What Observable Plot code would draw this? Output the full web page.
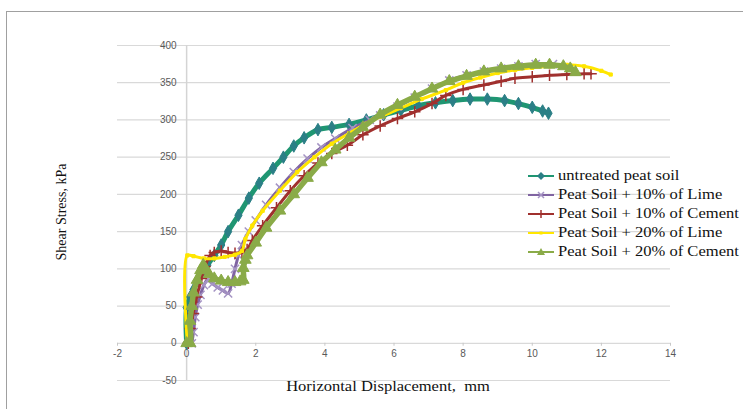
<!DOCTYPE html>
<html><head><meta charset="utf-8">
<script src="https://cdn.jsdelivr.net/npm/d3@7"></script>
<script src="https://cdn.jsdelivr.net/npm/@observablehq/plot@0.6"></script>
<style>
body{margin:0;background:#fff;}
#wrap{position:relative;width:743px;height:409px;overflow:hidden;background:#fff;}
#frame{position:absolute;left:6px;top:11px;width:760px;height:420px;border-left:1.5px solid #a0a0a0;border-top:1.5px solid #a0a0a0;}
#chart{position:absolute;left:0;top:0;}
.title{position:absolute;font-family:"Liberation Serif","Times New Roman",serif;color:#111;white-space:nowrap;}
#ytitle{left:62px;top:212px;font-size:14px;transform:translate(-50%,-50%) rotate(-90deg);}
#xtitle{left:388px;top:387px;font-size:14px;transform:translate(-50%,-50%) scaleX(1.18);}
#legend{position:absolute;left:527px;top:166px;font-family:"Liberation Serif","Times New Roman",serif;font-size:13.8px;color:#111;}
.row{display:flex;align-items:center;height:19.2px;white-space:nowrap;}
.row svg{margin-right:3px;}
.row span{display:inline-block;transform:scaleX(1.2);transform-origin:left center;}
</style>
</head><body>
<div id="wrap">
<div id="frame"></div>
<div id="chart"></div>
<div class="title" id="ytitle">Shear Stress, kPa</div>
<div class="title" id="xtitle">Horizontal Displacement,&nbsp; mm</div>
<div id="legend"></div>
</div>
<script>
const seriesNames = ["untreated peat soil","Peat Soil + 10% of Lime","Peat Soil + 10% of Cement","Peat Soil + 20% of Lime","Peat Soil + 20% of Cement"];
const seriesColors = ["#1f9672","#8064a2","#a0302e","#ffe600","#8aab48"];
const markerColors = ["#2b7f86","#a594c4","#a0302e","#ffe600","#8aab48"];
const seriesSymbols = ["diamond","times","plus","square","triangle"];
const xTicks = [-2,0,2,4,6,8,10,12,14];
const yTicks = [-50,0,50,100,150,200,250,300,350,400];

const untreated = [[0,0],[0,48],[0.1,62],[0.2,72],[0.3,84],[0.45,95],[0.6,105],[0.8,118],[1.0,132],[1.2,150],[1.5,172],[1.8,195],[2.1,215],[2.5,235],[2.8,250],[3.1,265],[3.4,276],[3.8,287],[4.2,290],[4.7,294],[5.2,300],[5.7,307],[6.2,313],[6.7,319],[7.2,323],[7.7,326],[8.2,328],[8.7,328],[9.2,326],[9.6,322],[10.0,317],[10.3,312],[10.47,309]];
const lime10 = [[0.15,0],[0.2,15],[0.25,35],[0.32,52],[0.4,65],[0.5,78],[0.6,85],[0.75,80],[0.9,75],[1.05,71],[1.2,67],[1.3,80],[1.4,100],[1.5,118],[1.6,132],[1.8,150],[2.0,165],[2.3,186],[2.7,209],[3.1,230],[3.5,248],[3.9,263],[4.3,275],[4.8,289],[5.3,300],[5.6,306],[6.1,318],[6.6,330],[7.1,342],[7.6,353],[8.1,360],[8.6,365],[9.1,369],[9.6,372],[10.1,375],[10.6,375]];
const cement10 = [[0.05,0],[0.1,20],[0.19,40],[0.29,62],[0.43,87],[0.53,103],[0.68,118],[0.8,122],[1.0,124],[1.2,122],[1.4,121],[1.6,122],[1.75,126],[1.9,138],[2.2,158],[2.6,182],[3.0,205],[3.4,225],[3.8,242],[4.2,255],[4.65,266],[5.1,280],[5.6,292],[6.1,302],[6.6,311],[7.1,322],[7.5,333],[8.0,341],[8.6,347],[9.1,352],[9.5,356],[10.0,358],[10.5,360],[11.0,361],[11.5,362],[11.7,362]];
const lime20 = [[0.02,0],[0.02,118],[0.2,117],[0.5,114],[0.8,114],[1.1,116],[1.4,119],[1.6,124],[1.7,140],[1.9,158],[2.2,178],[2.7,205],[3.2,230],[3.7,250],[4.2,268],[4.7,282],[5.2,295],[5.6,304],[6.2,316],[6.8,328],[7.5,340],[8.0,350],[8.5,357],[9.0,363],[9.5,367],[10.0,370],[10.5,372],[11.0,374],[11.5,372],[12.0,366],[12.27,361]];
const cement20 = [[0,0],[0.1,0],[0.1,30],[0.15,50],[0.2,68],[0.3,85],[0.4,98],[0.48,105],[0.55,100],[0.65,93],[0.8,87],[1.0,84],[1.2,82],[1.4,82],[1.55,83],[1.64,85],[1.64,101],[1.7,112],[1.75,118],[2.0,135],[2.3,155],[2.7,178],[3.1,200],[3.5,222],[3.9,243],[4.3,260],[4.7,276],[5.1,290],[5.6,307],[6.1,320],[6.6,331],[7.1,342],[7.6,352],[8.1,359],[8.6,365],[9.1,369],[9.6,372],[10.1,374],[10.5,374],[10.9,372],[11.1,369],[11.25,364]];

const allSeries = [untreated, lime10, cement10, lime20, cement20];
const lineWidths = [5, 3, 3, 3, 5.5];
const markerR = [3.8, 3.8, 3.8, 1.8, 4.3];

const marks = [
  Plot.ruleY(yTicks, {stroke:"#d9d9d9", strokeWidth:1.2}),
  Plot.ruleX([0], {stroke:"#d4d4d4", strokeWidth:1.5}),
  Plot.ruleX(xTicks, {y1:0, y2:-4, stroke:"#c8c8c8"}),
  Plot.text(yTicks, {x:0, y:d=>d, text:d=>String(d), dx:-10, textAnchor:"end", fontSize:10, fill:"#595959", fontFamily:"Liberation Sans"}),
  Plot.text(xTicks, {x:d=>d, y:0, text:d=>String(d), dy:11, fontSize:10, fill:"#595959", fontFamily:"Liberation Sans"})
];
allSeries.forEach((s, i) => {
  const open = seriesSymbols[i]==="times"||seriesSymbols[i]==="plus";
  marks.push(Plot.line(s, {x:d=>d[0], y:d=>d[1], stroke:seriesColors[i], strokeWidth:lineWidths[i], curve:"catmull-rom"}));
  marks.push(Plot.dot(s, {x:d=>d[0], y:d=>d[1], symbol:seriesSymbols[i], r:markerR[i], fill: open ? "none" : markerColors[i], stroke:markerColors[i], strokeWidth: open ? 1.5 : 1}));
});

const chart = Plot.plot({
  width:743, height:409,
  marginLeft:117, marginRight:73, marginTop:45, marginBottom:29,
  x:{domain:[-2,14], axis:null},
  y:{domain:[-50,400], axis:null},
  style:{background:"transparent", overflow:"visible"},
  marks
});
document.getElementById("chart").appendChild(chart);

const legend = document.getElementById("legend");
const symPaths = {
  diamond: '<path d="M14,2 L18,6 L14,10 L10,6Z" fill="#2b7f86"/>',
  times: '<path d="M11,3 L17,9 M17,3 L11,9" stroke="#a594c4" stroke-width="1.5"/>',
  plus: '<path d="M14,2 L14,10 M10,6 L18,6" stroke="#a0302e" stroke-width="1.5"/>',
  square: '<rect x="12.5" y="4.5" width="3" height="3" fill="#ffe600"/>',
  triangle: '<path d="M14,2 L18,9 L10,9Z" fill="#8aab48"/>'
};
seriesNames.forEach((n, i) => {
  const row = document.createElement("div");
  row.className = "row";
  row.innerHTML = `<svg width="28" height="12"><line x1="1" y1="6" x2="27" y2="6" stroke="${seriesColors[i]}" stroke-width="2"/>${symPaths[seriesSymbols[i]]}</svg><span>${n}</span>`;
  legend.appendChild(row);
});
</script>
</body></html>
